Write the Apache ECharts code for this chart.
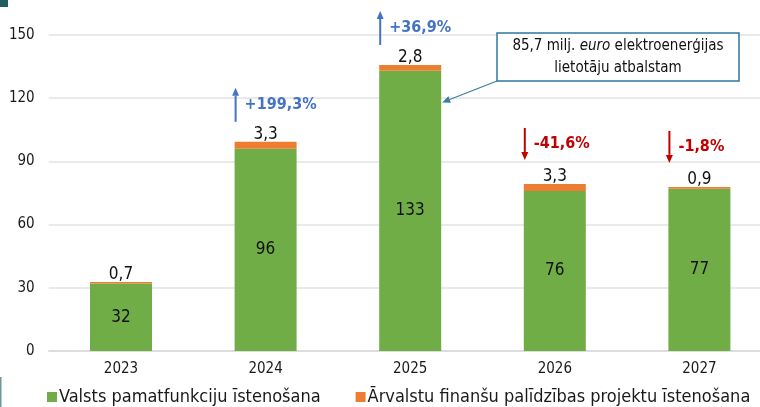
<!DOCTYPE html>
<html>
<head>
<meta charset="utf-8">
<script src="https://cdn.jsdelivr.net/npm/echarts@6/dist/echarts.min.js"></script>
<style>
  html, body { margin: 0; padding: 0; background: #fff; }
  #chart { width: 760px; height: 407px; }
</style>
</head>
<body>
<div id="chart"></div>
<script>
const years = ['2023', '2024', '2025', '2026', '2027']
const baseValues = [32, 96, 133, 76, 77]
const foreignValues = [0.7, 3.3, 2.8, 3.3, 0.9]
const yTicks = [0, 30, 60, 90, 120, 150]
const changeLabels = [null, '+199,3%', '+36,9%', '-41,6%', '-1,8%']
const seriesNames = ['Valsts pamatfunkciju īstenošana', 'Ārvalstu finanšu palīdzības projektu īstenošana']
const calloutYear = '2025'
const calloutValue = 118

const FONT = '"DejaVu Sans Condensed", "DejaVu Sans", sans-serif'
const fmt = v => String(v).replace('.', ',')

const chart = echarts.init(document.getElementById('chart'))

chart.setOption({
  animation: false,
  textStyle: { fontFamily: FONT },
  // plot area runs past the right edge of the picture
  grid: { left: 48.7, width: 723, top: 35, bottom: 56, outerBoundsMode: 'none' },
  legend: {
    data: seriesNames,
    left: 42,
    top: 383,
    icon: 'rect',
    itemWidth: 10,
    itemHeight: 10,
    itemGap: 35,
    textStyle: { fontSize: 18, color: '#1a1a1a', fontFamily: FONT, padding: [0, 0, 0, -3] }
  },
  xAxis: {
    type: 'category',
    data: years,
    axisTick: { show: false },
    axisLine: { lineStyle: { color: '#d9d9d9', width: 1.5 } },
    axisLabel: { color: '#1a1a1a', fontSize: 15, margin: 11 }
  },
  yAxis: {
    type: 'value',
    min: yTicks[0],
    max: yTicks[yTicks.length - 1],
    interval: 30,
    axisLabel: { color: '#1a1a1a', fontSize: 15, margin: 14 },
    splitLine: { lineStyle: { color: '#e3e3e3', width: 1.5 } }
  },
  series: [
    {
      name: seriesNames[0],
      type: 'bar',
      stack: 'total',
      data: baseValues,
      barWidth: 62,
      itemStyle: { color: '#70ad47' },
      label: {
        show: true,
        position: 'inside',
        color: '#111',
        fontSize: 17,
        formatter: p => fmt(p.value)
      }
    },
    {
      name: seriesNames[1],
      type: 'bar',
      stack: 'total',
      data: foreignValues,
      barWidth: 62,
      itemStyle: { color: '#ed7d31' },
      label: {
        show: true,
        position: 'top',
        distance: -1,
        color: '#111',
        fontSize: 17,
        formatter: p => fmt(p.value)
      }
    }
  ]
})

// annotations: change arrows, callout box, small decorations
const graphics = []
years.forEach((y, i) => {
  const txt = changeLabels[i]
  if (!txt) return
  const total = baseValues[i] + foreignValues[i]
  const pt = chart.convertToPixel({ gridIndex: 0 }, [i, total])
  const ax = pt[0] - 30
  const up = txt[0] === '+'
  const color = up ? '#4472c4' : '#c00000'
  let top, bottom
  if (up) {
    bottom = pt[1] - 20
    top = bottom - 34
  } else {
    bottom = pt[1] - 24
    top = bottom - 32
  }
  const tip = up ? top : bottom
  const base = up ? top + 8 : bottom - 8
  graphics.push({
    type: 'line',
    shape: { x1: ax, y1: up ? bottom : top, x2: ax, y2: base },
    style: { stroke: color, lineWidth: 2 }
  })
  graphics.push({
    type: 'polygon',
    shape: { points: [[ax, tip], [ax - 3.5, base], [ax + 3.5, base]] },
    style: { fill: color }
  })
  graphics.push({
    type: 'text',
    style: {
      text: txt,
      x: ax + 9,
      y: (top + bottom) / 2,
      fill: color,
      font: 'bold 16px ' + FONT,
      align: 'left',
      verticalAlign: 'middle'
    }
  })
})

const ci = years.indexOf(calloutYear)
const cp = chart.convertToPixel({ gridIndex: 0 }, [ci, calloutValue])
const arrowEnd = [cp[0] + 32, cp[1]]
const boxCorner = [497, 81]
const ang = Math.atan2(arrowEnd[1] - boxCorner[1], arrowEnd[0] - boxCorner[0])
const headL = 8, headW = 3.5
const hb = [arrowEnd[0] - headL * Math.cos(ang), arrowEnd[1] - headL * Math.sin(ang)]
graphics.push({
  type: 'line',
  shape: { x1: boxCorner[0], y1: boxCorner[1], x2: hb[0], y2: hb[1] },
  style: { stroke: '#3a7ca5', lineWidth: 1.2 }
})
graphics.push({
  type: 'polygon',
  shape: {
    points: [
      arrowEnd,
      [hb[0] + headW * Math.sin(ang), hb[1] - headW * Math.cos(ang)],
      [hb[0] - headW * Math.sin(ang), hb[1] + headW * Math.cos(ang)]
    ]
  },
  style: { fill: '#3a7ca5' }
})
graphics.push({
  type: 'rect',
  shape: { x: 497, y: 33, width: 242, height: 48 },
  style: { fill: '#fff', stroke: '#2e75a0', lineWidth: 1.5 }
})
graphics.push({
  type: 'text',
  style: {
    text: '85,7 milj. {i|euro} elektroenerģijas\nlietotāju atbalstam',
    x: 618,
    y: 57,
    align: 'center',
    verticalAlign: 'middle',
    fill: '#111',
    font: '15px ' + FONT,
    lineHeight: 22,
    rich: {
      i: { fontStyle: 'italic', fontSize: 15, fontFamily: FONT, fill: '#111' }
    }
  }
})
graphics.push({ type: 'rect', shape: { x: 0, y: 0, width: 8, height: 7 }, style: { fill: '#1f5f5f' } })
graphics.push({ type: 'rect', shape: { x: 0, y: 377, width: 1.5, height: 30 }, style: { fill: '#6b9a9a' } })

chart.setOption({ graphic: graphics })
</script>
</body>
</html>
